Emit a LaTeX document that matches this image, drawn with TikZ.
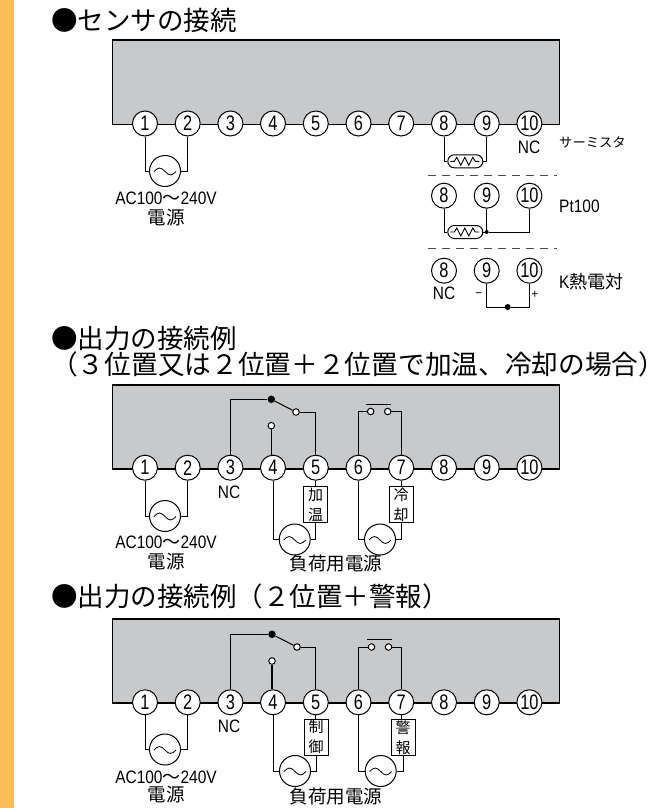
\documentclass[tikz,border=0pt]{standalone}
\usepackage{fontspec}
\usetikzlibrary{shapes.misc,calc}
\newfontfamily\cjk{Noto Sans CJK JP}
\newfontfamily\lat[FakeStretch=0.86]{Liberation Sans}
\newfontfamily\latt[FakeStretch=0.78]{Liberation Sans}
\definecolor{strip}{HTML}{F9BE55}
\definecolor{panelgray}{HTML}{C8C9CA}
\newcommand{\fsz}[1]{\fontsize{#1}{#1}\selectfont}
\tikzset{
  wire/.style={line width=1pt,black},
  panel/.style={draw,fill=panelgray,line width=1.2pt,anchor=north west,inner sep=0pt,minimum width=447pt,minimum height=84pt},
  term/.style={circle,draw,fill=white,line width=1pt,minimum size=25pt,inner sep=0pt,font=\latt\fsz{21}},
  src/.style={circle,draw,fill=white,line width=1pt,minimum size=31pt,inner sep=0pt,
    path picture={\draw[line width=.8pt] ($(path picture bounding box.center)+(-11,0.5)$) sin ++(5.5,-3.5) cos ++(5.5,3.5) sin ++(5.5,3.5) cos ++(5.5,-3.5);}},
  capsule/.style={rounded rectangle,draw,fill=white,line width=1pt,minimum width=35pt,minimum height=13pt,inner sep=0pt,
    path picture={\draw[line width=.9pt] ($(path picture bounding box.center)+(-15,0)$) -- ++(4,0) -- ++(2.5,-4) -- ++(4,8) -- ++(4,-8) -- ++(4,8) -- ++(4,-8) -- ++(2.5,4) -- ++(4,0);}},
  lab/.style={inner sep=0pt,font=\lat\fsz{18}},
  title/.style={inner sep=0pt,anchor=west,font=\cjk\fsz{26.5}},
  cjklab/.style={inner sep=0pt,font=\cjk\fsz{18.5}},
  loadbox/.style={draw,fill=white,line width=1pt,minimum width=24pt,minimum height=35.5pt,inner sep=0pt,align=center,font=\cjk\fsz{15}},
  sep/.style={line width=.6pt,dash pattern=on 8pt off 6pt,black!70},
  dotb/.style={circle,fill=black,inner sep=0pt},
  cont/.style={circle,draw,fill=white,line width=1pt,minimum size=6.5pt,inner sep=0pt},
}
\newcommand{\terminals}[2]{% prefix, y
  \foreach \n/\xx in {1/145,2/187.7,3/230.4,4/273,5/315.8,6/358.5,7/401.2,8/444,9/486.7,10/529.4}{
    \node[term] (#1\n) at (\xx,#2) {\n};
  }
}
\newcommand{\powerpart}[4]{% prefix, src y, text y1, text y2
  \node[src] (#1s) at (165,#2) {};
  \draw[wire] (#11) |- (#1s.west);
  \draw[wire] (#12) |- (#1s.east);
  \node[lab] (#1ac) at (166,#3) {AC100{\cjk～}240V};
  \node[cjklab] (#1acb) at (166,#4) {電源};
}
\begin{document}
\begin{tikzpicture}[x=1pt,y=-1pt]
\useasboundingbox (0,0) rectangle (667,808);
\fill[strip] (0,0) rectangle (14,808);

% ---- Panel 1
\node[title] (t1) at (51,20) {●センサの接続};
\node[panel] (p1) at (112,39.5) {};
\terminals{a}{123.5}
\powerpart{a}{171}{198}{218}
\node[capsule] (c1) at (465.3,161.3) {};
\draw[wire] (a8) |- (c1.west);
\draw[wire] (a9) |- (c1.east);
\node[lab] (nc1) at (529,147) {NC};
\node[inner sep=0pt,anchor=west,font=\cjk\fsz{13.3}] (th) at (559,142) {サーミスタ};
\coordinate (d1l) at (428,175.3); \coordinate (d1r) at (557,175.3);
\draw[sep] (d1l) -- (d1r);

\foreach \n/\xx in {8/444,9/486.7,10/529.4}{\node[term] (b\n) at (\xx,195.7) {\n};}
\node[capsule] (c2) at (465.3,232) {};
\node[dotb,minimum size=4pt] (d2) at (486.7,232) {};
\draw[wire] (b8) |- (c2.west);
\draw[wire] (b9) -- (d2);
\draw[wire] (c2.east) -- (d2);
\draw[wire] (d2) -| (b10);
\node[lab,anchor=west] (pt) at (559,206) {Pt100};
\coordinate (d3l) at (428,248.3); \coordinate (d3r) at (557,248.3);
\draw[sep] (d3l) -- (d3r);

\foreach \n/\xx in {8/444,9/486.7,10/529.4}{\node[term] (k\n) at (\xx,270.7) {\n};}
\node[lab] (nc2) at (444,293) {NC};
\node[dotb,minimum size=6pt] (kd) at (507.7,307) {};
\draw[wire] (k9) |- (kd);
\draw[wire] (k10) |- (kd);
\node[inner sep=0pt,font=\lat\fsz{13}] (minus) at (478.7,295) {−};
\node[inner sep=0pt,font=\lat\fsz{13}] (plus) at (535,295) {+};
\node[inner sep=0pt,anchor=west,font=\cjk\fsz{18}] (kk) at (559,282) {{\lat\fsz{18}K}熱電対};

% ---- Panel 2
\node[title] (t2) at (51,338) {●出力の接続例};
\node[title,font=\cjk\fsz{26.7}] (t3) at (51,364) {（３位置又は２位置＋２位置で加温、冷却の場合）};
\node[panel] (p2) at (112,384.3) {};
\terminals{e}{467.7}
\powerpart{e}{516}{542.7}{561.7}
\node[lab] (nc3) at (229,492.7) {NC};
\node[dotb,minimum size=7.5pt] (ea) at (271.3,399.3) {};
\node[cont] (eb) at (296,412) {};
\node[cont] (ec) at (271.3,425.7) {};
\node[cont] (ed) at (370.7,411.5) {};
\node[cont] (ee) at (387.7,411.5) {};
\draw[wire] (e3) |- (ea);
\draw[wire] (ea) -- (eb);
\draw[wire] (eb) -| (e5);
\draw[line width=1.5pt] (ec) -- (ec|-e4.north);
\draw[wire] (e6) |- (ed);
\draw[wire] (ee) -| (e7);
\coordinate (ebl) at (366,404.7); \coordinate (ebr) at (391,404.7);
\draw[line width=1.5pt] (ebl) -- (ebr);
\node[loadbox] (el1) at (315.6,504.5) {加\\[5pt]温};
\node[loadbox] (el2) at (401,504.5) {冷\\[5pt]却};
\node[src] (es1) at (294.7,539.5) {};
\node[src] (es2) at (380,539.5) {};
\draw[wire] (e5) -- (e5|-el1.north);
\draw[wire] (e7) -- (e7|-el2.north);
\draw[wire] (e4) |- (es1.west);
\draw[wire] (el1.south) |- (es1.east);
\draw[wire] (e6) |- (es2.west);
\draw[wire] (el2.south) |- (es2.east);
\node[cjklab] (fu1) at (336,564) {負荷用電源};

% ---- Panel 3
\node[title] (t4) at (51,596) {●出力の接続例（２位置＋警報）};
\node[panel] (p3) at (112,618.3) {};
\terminals{g}{702.3}
\powerpart{g}{749.5}{777}{795}
\node[lab] (nc4) at (229,726) {NC};
\node[dotb,minimum size=7.5pt] (ga) at (272,634.3) {};
\node[cont] (gb) at (297,647) {};
\node[cont] (gc) at (272,661) {};
\node[cont] (gd) at (371.5,647) {};
\node[cont] (ge) at (388.5,647) {};
\draw[wire] (g3) |- (ga);
\draw[wire] (ga) -- (gb);
\draw[wire] (gb) -| (g5);
\draw[line width=1.5pt] (gc) -- (gc|-g4.north);
\draw[wire] (g6) |- (gd);
\draw[wire] (ge) -| (g7);
\coordinate (gbl) at (367,639.7); \coordinate (gbr) at (392,639.7);
\draw[line width=1.5pt] (gbl) -- (gbr);
\node[loadbox] (gl1) at (316,737.3) {制\\[5pt]御};
\node[loadbox] (gl2) at (403,737.3) {警\\[5pt]報};
\node[src] (gs1) at (295,771) {};
\node[src] (gs2) at (380.7,771) {};
\draw[wire] (g5) -- (g5|-gl1.north);
\draw[wire] (g7) -- (g7|-gl2.north);
\draw[wire] (g4) |- (gs1.west);
\draw[wire] (gl1.south) |- (gs1.east);
\draw[wire] (g6) |- (gs2.west);
\draw[wire] (gl2.south) |- (gs2.east);
\node[cjklab] (fu2) at (336,797) {負荷用電源};
\end{tikzpicture}
\end{document}
